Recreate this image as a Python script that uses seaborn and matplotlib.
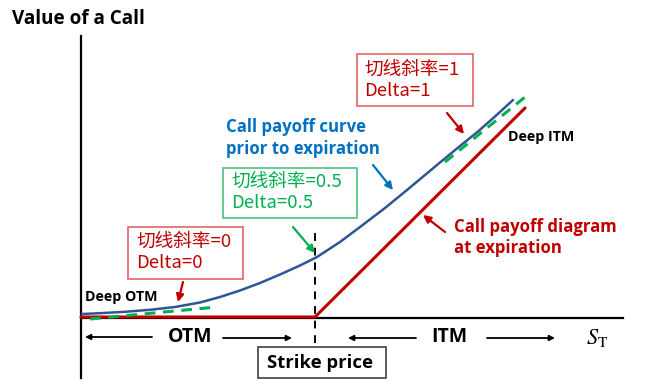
import matplotlib
matplotlib.use("Agg")
import matplotlib.pyplot as plt
import seaborn as sns
import pandas as pd
from matplotlib.patches import Rectangle

# ---- data (chart units: S = underlying price, V = option value) ----
strike = 234
prior_S = [1, 19, 44, 69, 94, 119, 139, 159, 179, 199, 219, 236, 259, 279,
           304, 326, 344, 362, 379, 397, 414, 432]
prior_V = [4, 4.8, 6.2, 8.2, 11, 15.5, 21, 27.5, 35, 43.5, 52.5, 61, 76, 91,
           110, 128, 143, 158, 172, 186.5, 201.5, 218]
expiry_S = [0, 234, 444]
expiry_V = [1, 1, 210]
tan_lo_S = [9, 136]
tan_lo_V = [-1, 11]
tan_hi_S = [364, 449]
tan_hi_V = [156, 225]

sns.set_theme(style="white")
plt.rcParams["font.family"] = ["Open Sans", "Noto Sans CJK SC", "DejaVu Sans"]
plt.rcParams["mathtext.fontset"] = "stix"

BLUE_LINE = "#2F5597"
BLUE_TXT = "#0070C0"
RED = "#C00000"
RED_BOX = "#E06666"
GREEN = "#00B050"
GREEN_BOX = "#4CC37E"

fig = plt.figure(figsize=(6.58, 3.88), dpi=100)
ax = fig.add_axes([0, 0, 1, 1])
ax.set_xlim(-81, 577)
ax.set_ylim(-70, 318)

prior = pd.DataFrame({"S": prior_S, "V": prior_V})
expiry = pd.DataFrame({"S": expiry_S, "V": expiry_V})
tlo = pd.DataFrame({"S": tan_lo_S, "V": tan_lo_V})
thi = pd.DataFrame({"S": tan_hi_S, "V": tan_hi_V})

sns.lineplot(data=expiry, x="S", y="V", ax=ax, color=RED, lw=2.2, sort=False, zorder=3)
sns.lineplot(data=prior, x="S", y="V", ax=ax, color=BLUE_LINE, lw=1.8, sort=False,
             zorder=4, solid_joinstyle="round")
for d in (tlo, thi):
    sns.lineplot(data=d, x="S", y="V", ax=ax, color=GREEN, lw=2.2, sort=False,
                 zorder=5, linestyle=(0, (3.5, 2.5)))

# axes as spines
for s in ("top", "right"):
    ax.spines[s].set_visible(False)
ax.spines["left"].set_position(("data", 0))
ax.spines["bottom"].set_position(("data", 0))
ax.spines["left"].set_bounds(-60, 282)
ax.spines["bottom"].set_bounds(0, 542)
for s in ("left", "bottom"):
    ax.spines[s].set_color("black")
    ax.spines[s].set_linewidth(1.6)
    ax.spines[s].set_zorder(2)
ax.set_xticks([])
ax.set_yticks([])
ax.set_xlabel("")
ax.set_ylabel("")
ax.patch.set_alpha(0)

ax.vlines(strike, -25, 86, colors="black", linestyles=(0, (4, 3.5)), lw=1.4, zorder=1)


def P(x, y):
    return (x - 81, 318 - y)


def rect(x0, y0, x1, y1, ec, fc="none"):
    ax.add_patch(Rectangle((x0 - 81, 318 - y1), x1 - x0, y1 - y0,
                           fill=(fc != "none"), facecolor=fc, edgecolor=ec, lw=1.2, zorder=6))


def arrow(tail, tip, color, lw=1.6, ms=11):
    ax.annotate("", xy=P(*tip), xytext=P(*tail),
                arrowprops=dict(arrowstyle="-|>", color=color, lw=lw,
                                mutation_scale=ms, shrinkA=0, shrinkB=0), zorder=7)


B = dict(fontweight="bold", ha="left", va="center")
ax.text(*P(12, 19), "Value of a Call", fontsize=13.6, color="black", **B)
ax.text(*P(226, 127), "Call payoff curve", fontsize=12.1, color=BLUE_TXT, **B)
ax.text(*P(226, 149), "prior to expiration", fontsize=12.1, color=BLUE_TXT, **B)
ax.text(*P(454, 227), "Call payoff diagram", fontsize=12.1, color=RED, **B)
ax.text(*P(454, 248), "at expiration", fontsize=12.1, color=RED, **B)
ax.text(*P(85, 297), "Deep OTM", fontsize=10.3, color="black", **B)
ax.text(*P(508, 137), "Deep ITM", fontsize=10.3, color="black", **B)

C = dict(ha="center", va="center", fontweight="bold", fontsize=14, color="black")
ax.text(*P(190, 337), "OTM", **C)
ax.text(*P(449, 337), "ITM", **C)
ax.text(*P(597, 338), r"$S_{\mathrm{T}}$", ha="center", va="center", fontsize=16, color="black")

# boxes with Chinese text
CJK = ["Noto Sans CJK SC", "DejaVu Sans"]
T = dict(fontsize=13.4, family=CJK, ha="left", va="center", zorder=7)
rect(128, 227, 243, 279, RED_BOX)
ax.text(*P(136, 242), "切线斜率=0", color=RED, **T)
ax.text(*P(136, 263), "Delta=0", color=RED, **T)

rect(223, 168, 357, 218, GREEN_BOX)
ax.text(*P(231, 182), "切线斜率=0.5", color=GREEN, **T)
ax.text(*P(231, 203), "Delta=0.5", color=GREEN, **T)

rect(357, 54, 473, 106, RED_BOX)
ax.text(*P(364, 70), "切线斜率=1", color=RED, **T)
ax.text(*P(364, 91), "Delta=1", color=RED, **T)

rect(258, 347, 386, 378, "#404040", fc="white")
ax.text(*P(320, 363), "Strike price", fontsize=13.3, fontweight="bold", color="black",
        ha="center", va="center", zorder=7)

# pointer arrows
arrow((373, 165), (393, 190), BLUE_TXT)
arrow((293, 227), (315, 253), GREEN)
arrow((183, 282), (178, 302), RED)
arrow((447, 113), (464, 134), RED)
arrow((445, 232), (423, 215), RED)

# region arrows
for tail, tip in [((152, 337), (85, 337)), ((223, 338), (292, 338)),
                  ((416, 338), (348, 338)), ((487, 338), (555, 338))]:
    arrow(tail, tip, "black", lw=1.3, ms=8)

fig.savefig("out.png", dpi=100)
